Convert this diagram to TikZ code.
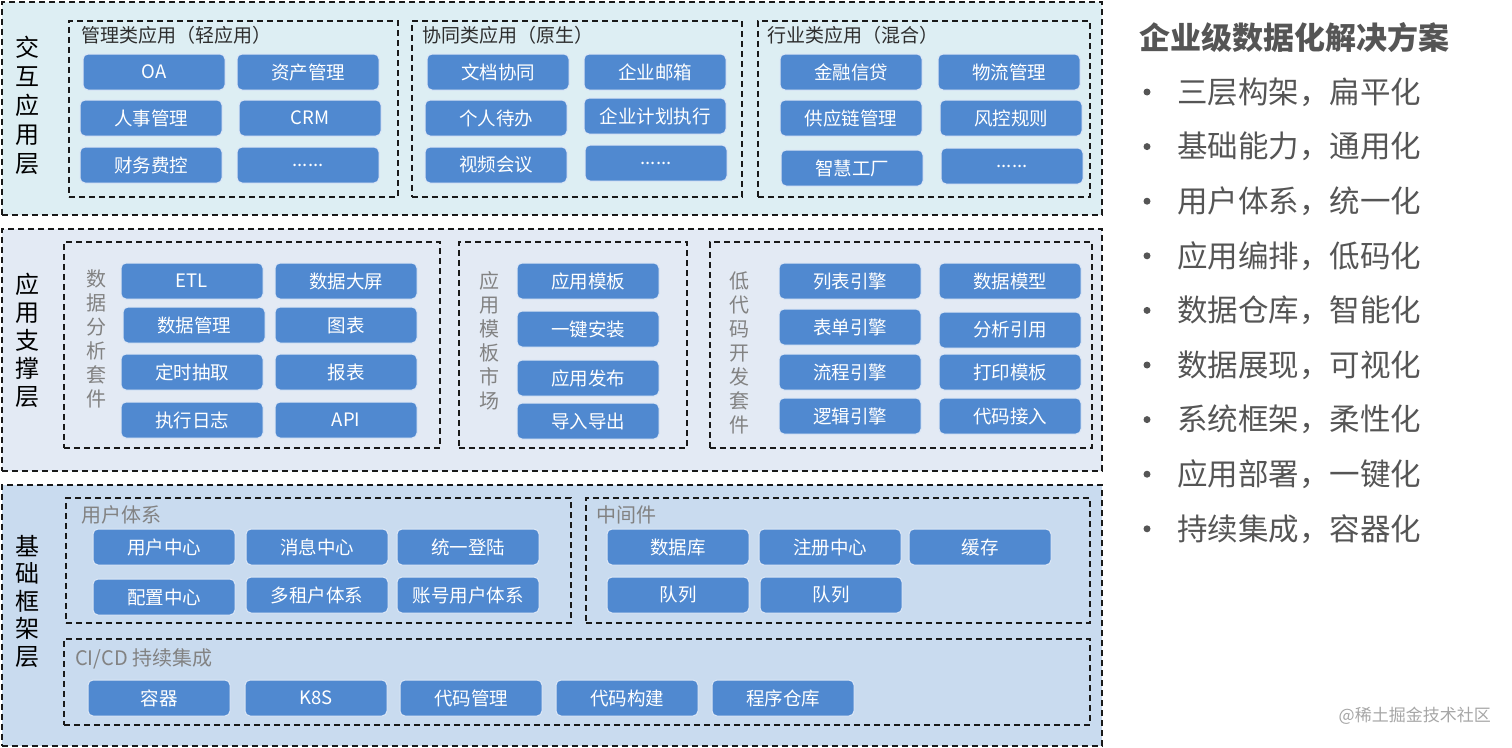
\documentclass[tikz,border=0pt]{standalone}
\usepackage{fontspec}
\setmainfont{Noto Sans CJK SC}
\usepackage{xcolor}
\usepackage{tikz}
\usetikzlibrary{positioning}

\definecolor{boxblue}{RGB}{80,137,208}
\definecolor{fillA}{RGB}{221,238,243}
\definecolor{fillB}{RGB}{227,234,244}
\definecolor{fillC}{RGB}{201,219,239}
\definecolor{darktext}{RGB}{45,45,45}
\definecolor{greytext}{RGB}{130,130,130}
\definecolor{sidetext}{RGB}{85,85,85}

\begin{document}
\begin{tikzpicture}[
  x=1pt, y=-1pt,
  layer/.style={draw=black!90, fill=#1, dash pattern=on 6pt off 4pt, line width=1.6pt, anchor=north west, inner sep=0pt},
  grp/.style={draw=black!90, dash pattern=on 6pt off 4pt, line width=1.6pt, anchor=north west, inner sep=0pt},
  box/.style={draw=white!80!boxblue, fill=boxblue, line width=1pt, rounded corners=5pt, minimum width=142pt, minimum height=36pt, inner sep=0pt, text=white, font=\fontsize{18.5}{18.5}\selectfont},
  vlab/.style={align=center, text=black, font=\fontsize{24}{29}\selectfont, inner sep=0pt},
  vsub/.style={align=center, text=greytext, font=\fontsize{20}{24}\selectfont, inner sep=0pt},
  title/.style={anchor=west, text=darktext, font=\fontsize{19}{19}\selectfont, inner sep=0pt},
  subtitle/.style={anchor=west, text=greytext, font=\fontsize{20}{20}\selectfont, inner sep=0pt},
  point/.style={anchor=west, text=sidetext, font=\fontsize{30.5}{30.5}\selectfont, inner sep=0pt},
  bullet/.style={fill=sidetext, circle, inner sep=0pt, minimum size=7pt},
]
  \useasboundingbox (0,0) rectangle (1512,747);

  % three layers
  \node[layer=fillA, minimum width=1100pt, minimum height=213pt] (inter) at (1,1) {};
  \node[layer=fillB, minimum width=1100pt, minimum height=242pt] (support) at (1,228) {};
  \node[layer=fillC, minimum width=1100pt, minimum height=261pt] (base) at (1,484) {};

  \node[vlab] (interlab) at (27,105) {交\\互\\应\\用\\层};
  \node[vlab, font=\fontsize{24}{28}\selectfont] (supportlab) at (27,340) {应\\用\\支\\撑\\层};
  \node[vlab, font=\fontsize{24}{27.5}\selectfont] (baselab) at (27,601) {基\\础\\框\\架\\层};

  % interaction layer
  \node[grp, minimum width=329pt, minimum height=176pt] (gmgmt) at (68,20) {};
  \node[grp, minimum width=330pt, minimum height=176pt] (gcoop) at (411,20) {};
  \node[grp, minimum width=332pt, minimum height=176pt] (gindus) at (757,20) {};
  \node[title] (tmgmt) at (81,35) {管理类应用（轻应用）};
  \node[title] (tcoop) at (422,35) {协同类应用（原生）};
  \node[title] (tindus) at (767,35) {行业类应用（混合）};

  \node[box] (oa) at (154,72) {OA};
  \node[box] (asset) at (308,72) {资产管理};
  \node[box] (hr) at (151,118) {人事管理};
  \node[box] (crm) at (310,118) {CRM};
  \node[box] (finance) at (151,165) {财务费控};
  \node[box] (moreA) at (308,165) {......};

  \node[box] (doc) at (498,72) {文档协同};
  \node[box] (mail) at (655,72) {企业邮箱};
  \node[box] (todo) at (496,118) {个人待办};
  \node[box] (plan) at (655,116) {企业计划执行};
  \node[box] (video) at (496,165) {视频会议};
  \node[box] (moreB) at (656,163) {......};

  \node[box] (loan) at (851,72) {金融信贷};
  \node[box] (logis) at (1009,72) {物流管理};
  \node[box] (supply) at (851,118) {供应链管理};
  \node[box] (risk) at (1011,118) {风控规则};
  \node[box] (factory) at (852,168) {智慧工厂};
  \node[box] (moreC) at (1012,166) {......};

  % support layer
  \node[grp, minimum width=376pt, minimum height=206pt] (gdata) at (63,241) {};
  \node[grp, minimum width=228pt, minimum height=206pt] (gmarket) at (458,241) {};
  \node[grp, minimum width=382pt, minimum height=206pt] (glowcode) at (709,241) {};
  \node[vsub] (tdata) at (96,339) {数\\据\\分\\析\\套\\件};
  \node[vsub] (tmarket) at (489,341) {应\\用\\模\\板\\市\\场};
  \node[vsub] (tlowcode) at (739,353) {低\\代\\码\\开\\发\\套\\件};

  \node[box] (etl) at (192,281) {ETL};
  \node[box] (screen) at (346,281) {数据大屏};
  \node[box] (dmgmt) at (194,325) {数据管理};
  \node[box] (chart) at (346,325) {图表};
  \node[box] (extract) at (192,372) {定时抽取};
  \node[box] (report) at (346,372) {报表};
  \node[box] (joblog) at (192,420) {执行日志};
  \node[box] (api) at (346,420) {API};

  \node[box] (tpl) at (588,281) {应用模板};
  \node[box] (install) at (588,329) {一键安装};
  \node[box] (publish) at (588,378) {应用发布};
  \node[box] (io) at (588,421) {导入导出};

  \node[box] (listeng) at (850,281) {列表引擎};
  \node[box] (formeng) at (850,327) {表单引擎};
  \node[box] (floweng) at (850,372) {流程引擎};
  \node[box] (logiceng) at (850,416) {逻辑引擎};
  \node[box] (model) at (1010,281) {数据模型};
  \node[box] (analysis) at (1010,330) {分析引用};
  \node[box] (print) at (1010,372) {打印模板};
  \node[box] (codein) at (1010,416) {代码接入};

  % base layer
  \node[grp, minimum width=505pt, minimum height=125pt] (guser) at (65,497) {};
  \node[grp, minimum width=504pt, minimum height=125pt] (gmiddle) at (585,497) {};
  \node[grp, minimum width=1026pt, minimum height=86pt] (gcicd) at (63,638) {};
  \node[subtitle] (tuser) at (81,515) {用户体系};
  \node[subtitle] (tmiddle) at (596,515) {中间件};
  \node[subtitle] (tcicd) at (75,659) {CI/CD 持续集成};

  \node[box] (ucenter) at (164,547) {用户中心};
  \node[box] (msg) at (317,547) {消息中心};
  \node[box] (sso) at (468,547) {统一登陆};
  \node[box] (config) at (164,597) {配置中心};
  \node[box] (tenant) at (317,595) {多租户体系};
  \node[box] (account) at (468,595) {账号用户体系};

  \node[box] (db) at (678,547) {数据库};
  \node[box] (registry) at (830,547) {注册中心};
  \node[box] (cache) at (980,547) {缓存};
  \node[box] (queueA) at (678,595) {队列};
  \node[box] (queueB) at (831,595) {队列};

  \node[box] (container) at (159,698) {容器};
  \node[box] (k8s) at (316,698) {K8S};
  \node[box] (scm) at (471,698) {代码管理};
  \node[box] (build) at (627,698) {代码构建};
  \node[box] (repo) at (783,698) {程序仓库};

  % side panel
  \node[point, font=\fontsize{31}{31}\selectfont\bfseries] (head) at (1139,38) {企业级数据化解决方案};
  \foreach \txt [count=\i] in {三层构架，扁平化, 基础能力，通用化, 用户体系，统一化, 应用编排，低码化, 数据仓库，智能化, 数据展现，可视化, 系统框架，柔性化, 应用部署，一键化, 持续集成，容器化} {
    \node[bullet] (dot\i) at (1147,{92+(\i-1)*54.6}) {};
    \node[point] (item\i) at (1177,{92+(\i-1)*54.6}) {\txt};
  }
  \node[anchor=east, text=black!35, font=\fontsize{17}{17}\selectfont, inner sep=0pt] (mark) at (1491,716) {@稀土掘金技术社区};
\end{tikzpicture}
\end{document}
